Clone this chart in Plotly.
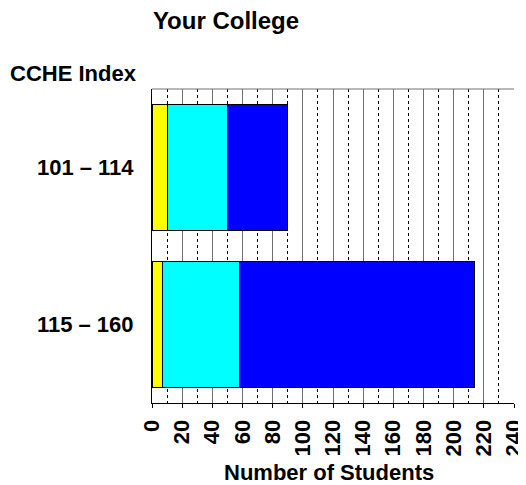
import plotly.graph_objects as go

categories = ["101 – 114", "115 – 160"]
seg_yellow = [10, 7]
seg_cyan = [40, 51]
seg_blue = [40, 156]
x_ticks = list(range(0, 241, 20))

FONT = "Liberation Sans, Arial, Helvetica, sans-serif"

# page body has an 8px margin, so the figure is sized to fill the rest of the window
W, H = 518, 477

fig = go.Figure()
for vals, col in [(seg_yellow, "#FFFF00"), (seg_cyan, "#00FFFF"), (seg_blue, "#0000FF")]:
    fig.add_trace(go.Bar(
        y=categories, x=vals, orientation="h",
        marker=dict(color=col, line=dict(color="black", width=1)),
        showlegend=False,
    ))

fig.update_layout(
    width=W, height=H,
    barmode="stack", bargap=0.2,
    plot_bgcolor="white", paper_bgcolor="white",
    margin=dict(l=144, r=12, t=81, b=82),
    font=dict(family=FONT, size=22, color="black"),
    title=dict(text="Your College", x=218/W, xref="container", xanchor="center",
               y=1 - 13/H, yref="container", yanchor="middle",
               font=dict(family=FONT, size=24, color="black", weight="bold")),
    xaxis=dict(
        range=[0, 240], tickmode="array", tickvals=x_ticks, ticktext=[str(v) for v in x_ticks],
        tickangle=-90, ticks="outside", ticklen=4, tickcolor="black", tickwidth=1,
        showline=True, linecolor="black", linewidth=1,
        showgrid=True, gridcolor="#707070", gridwidth=1,
        minor=dict(dtick=10, tick0=0, showgrid=True, gridcolor="black", griddash="dot", gridwidth=1, ticks=""),
        tickfont=dict(family=FONT, size=22, color="black", weight="bold"),
        ticklabelstandoff=3, automargin=False, ticklabeloverflow="allow",
        zeroline=False, fixedrange=True,
    ),
    yaxis=dict(
        categoryorder="array", categoryarray=categories,
        range=[1.5, -0.5], showline=True, linecolor="black", linewidth=1,
        ticks="", showgrid=False, zeroline=False,
        tickfont=dict(family=FONT, size=22, color="black", weight="bold"),
        ticklabelstandoff=13, automargin=False,
    ),
    shapes=[dict(type="line", xref="paper", yref="paper", x0=0, x1=1, y0=1, y1=1,
                 line=dict(color="#707070", width=1))],
    annotations=[
        dict(text="CCHE Index", xref="paper", yref="paper", x=(8-152)/362, y=(403-74)/314,
             xanchor="left", yanchor="middle", showarrow=False,
             font=dict(family=FONT, size=22, color="black", weight="bold")),
        dict(text="Number of Students", xref="paper", yref="paper", x=(329-152)/362, y=(403-472)/314,
             xanchor="center", yanchor="middle", showarrow=False,
             font=dict(family=FONT, size=22, color="black", weight="bold")),
    ],
)

fig.write_html("out.html")
